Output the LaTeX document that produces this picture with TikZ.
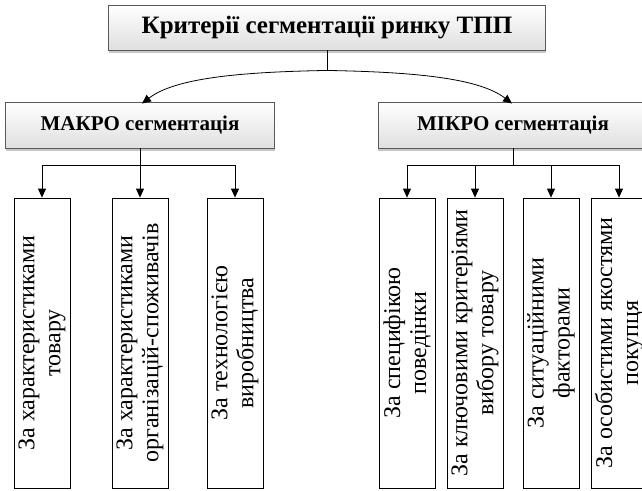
\documentclass[tikz,border=0pt]{standalone}
\usepackage{fontspec}
\setmainfont{Liberation Serif}
\usetikzlibrary{arrows.meta,shadows}
\begin{document}
\begin{tikzpicture}[x=1pt,y=-1pt,
  hdr/.style={draw=gray!70!black, line width=0.9pt, top color=white, bottom color=gray!25,
    drop shadow={shadow xshift=0pt, shadow yshift=-3pt, fill=gray!55, opacity=0.8},
    inner sep=0pt, font=\bfseries},
  leaf/.style={draw=black, line width=0.8pt, fill=white, rotate=90, minimum width=290pt,
    minimum height=56pt, inner sep=0pt, align=center,
    font=\fontsize{24}{26}\selectfont},
  arr/.style={line width=0.8pt, -{Triangle[length=9pt,width=8pt]}},
  ln/.style={line width=0.8pt}]
\useasboundingbox (0,0) rectangle (642,490);
\begin{scope}
\clip (0,0) rectangle (642,490);
\node[hdr, minimum width=437pt, minimum height=45pt, font=\bfseries\fontsize{25}{28}\selectfont] (title) at (327,27.5) {Критерії сегментації ринку ТПП};
\node[hdr, minimum width=269pt, minimum height=46pt, font=\bfseries\fontsize{21}{24}\selectfont] (makro) at (140,125) {МАКРО сегментація};
\node[hdr, minimum width=270pt, minimum height=46pt, font=\bfseries\fontsize{21}{24}\selectfont] (mikro) at (513,125) {МІКРО сегментація};

\node[leaf] (c1) at (42,343) {За характеристиками\\товару};
\node[leaf] (c2) at (140,343) {За характеристиками\\організацій-споживачів};
\node[leaf] (c3) at (235,343) {За технологією\\виробництва};
\node[leaf] (c4) at (407,343) {За специфікою\\поведінки};
\node[leaf] (c5) at (475,343) {За ключовими критеріями\\вибору товару};
\node[leaf] (c6) at (551,343) {За ситуаційними\\факторами};
\node[leaf] (c7) at (619,343) {За особистими якостями\\покупця};

\draw[ln] (title.south) -- ++(0,20) coordinate (tj);
\draw[arr] (tj) .. controls (240,72) and (175,78) .. ([xshift=2pt,yshift=-2pt]makro.north);
\draw[arr] (tj) .. controls (414,72) and (479,78) .. ([xshift=-1pt,yshift=-2pt]mikro.north);

\draw[ln] (makro.south) -- ++(0,17) coordinate (mj);
\draw[arr] (mj) -| (c1.east);
\draw[arr] (mj) -- (c2.east);
\draw[arr] (mj) -| (c3.east);

\draw[ln] (mikro.south) -- ++(0,17) coordinate (nj);
\draw[arr] (nj) -| (c4.east);
\draw[arr] (nj) -| (c5.east);
\draw[arr] (nj) -| (c6.east);
\draw[arr] (nj) -| (c7.east);
\end{scope}
\end{tikzpicture}
\end{document}
